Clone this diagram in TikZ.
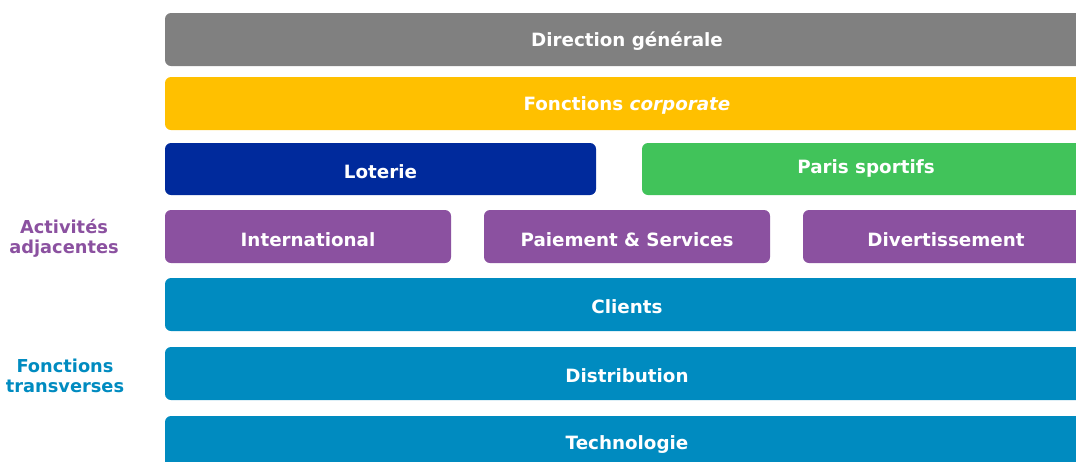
\documentclass[tikz,border=0pt]{standalone}
\usepackage{fontspec}
\setmainfont{DejaVu Sans}
\definecolor{cgray}{HTML}{808080}
\definecolor{cyellow}{HTML}{FFC000}
\definecolor{cnavy}{HTML}{002A9C}
\definecolor{cgreen}{HTML}{41C35A}
\definecolor{cpurple}{HTML}{8B51A0}
\definecolor{cblue}{HTML}{008BC0}
\begin{document}
\begin{tikzpicture}[x=1pt,y=-1pt,
  bar/.style={rounded corners=6pt,inner sep=0pt,outer sep=0pt},
  bartext/.style={text=white,font=\bfseries\fontsize{18.3}{20}\selectfont,inner sep=0pt,yshift=-1.5pt},
  sidelabel/.style={font=\bfseries\fontsize{17.8}{20}\selectfont,align=center,inner sep=0pt}]
\useasboundingbox (0,0) rectangle (1076,461);
\clip (0,0) rectangle (1076,461);
% bars
\fill[bar,cgray] (165,13) rectangle (1089,66);
\node[bartext] (dg) at (627,40) {Direction générale};
\fill[bar,cyellow] (165,77) rectangle (1089,130);
\node[bartext] (fc) at (627,104) {Fonctions \textit{corporate}};
\fill[bar,cnavy] (165,143) rectangle (596,195);
\node[bartext] (lot) at (380.5,170) {Loterie};
\fill[bar,cgreen] (642,143) rectangle (1090,195);
\node[bartext] (ps) at (866,167) {Paris sportifs};
\fill[bar,cpurple] (165,210) rectangle (451,263);
\node[bartext] (int) at (308,238) {International};
\fill[bar,cpurple] (484,210) rectangle (770,263);
\node[bartext] (pay) at (627,238) {Paiement \& Services};
\fill[bar,cpurple] (803,210) rectangle (1089,263);
\node[bartext] (div) at (946,238) {Divertissement};
\fill[bar,cblue] (165,278) rectangle (1089,331);
\node[bartext] (cli) at (627,305) {Clients};
\fill[bar,cblue] (165,347) rectangle (1089,400);
\node[bartext] (dis) at (627,374) {Distribution};
\fill[bar,cblue] (165,416) rectangle (1089,480);
\node[bartext] (tec) at (627,443) {Technologie};
% side labels
\node[sidelabel,text=cpurple] (act) at (64,238) {Activités\\adjacentes};
\node[sidelabel,text=cblue] (ft) at (65,376) {Fonctions\\transverses};
\end{tikzpicture}
\end{document}
